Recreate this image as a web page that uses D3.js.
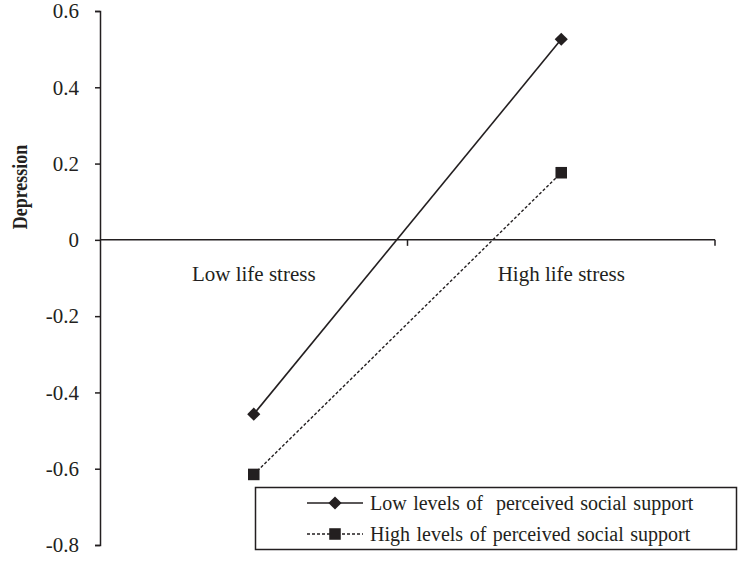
<!DOCTYPE html>
<html><head><meta charset="utf-8">
<script src="https://cdn.jsdelivr.net/npm/d3@7"></script>
<style>
html,body{margin:0;padding:0;background:#fff;}
svg text{font-family:"Liberation Serif","Times New Roman",serif !important;fill:#231f20;}
</style></head>
<body>
<svg id="chart" width="739" height="563"></svg>
<script>
const categories = ["Low life stress", "High life stress"];
const seriesNames = ["Low levels of  perceived social support", "High levels of perceived social support"];
const lowSupport = [-0.457, 0.526];
const highSupport = [-0.615, 0.176];
const yTicks = [0.6, 0.4, 0.2, 0, -0.2, -0.4, -0.6, -0.8];
const yLabel = "Depression";

const svg = d3.select("#chart");
const ink = "#231f20";
const x = d3.scaleBand().domain(categories).range([100, 715]).padding(0);
const y = d3.scaleLinear().domain([-0.8, 0.6]).range([545, 11]);

// Y axis
const yAxis = d3.axisLeft(y).tickValues(yTicks).tickSize(5).tickPadding(16)
  .tickFormat(d => d === 0 ? "0" : d3.format(".1f")(d).replace("\u2212", "-"));
const gy = svg.append("g").attr("transform", "translate(100,0)").call(yAxis);
gy.attr("font-family", null).attr("font-size", null);
gy.select(".domain").attr("stroke", ink).attr("stroke-width", 1.5);
gy.selectAll(".tick line").attr("stroke", ink).attr("stroke-width", 1.5);
gy.selectAll(".tick text").style("font-size", "21px").attr("fill", ink);

// X axis at y=0
const y0 = y(0);
const gx = svg.append("g");
gx.append("line").attr("x1", x.range()[0]).attr("x2", x.range()[1])
  .attr("y1", y0).attr("y2", y0).attr("stroke", ink).attr("stroke-width", 1.5);
const boundaries = categories.map(c => x(c) + x.bandwidth()).filter(v => v > x.range()[0]);
gx.selectAll("line.tk").data(boundaries).enter().append("line").attr("class", "tk")
  .attr("x1", d => d).attr("x2", d => d).attr("y1", y0).attr("y2", y0 + 6)
  .attr("stroke", ink).attr("stroke-width", 1.5);
gx.selectAll("text.cat").data(categories).enter().append("text").attr("class", "cat")
  .attr("x", d => x(d) + x.bandwidth() / 2).attr("y", y0 + 41)
  .attr("text-anchor", "middle").style("font-size", "21px").text(d => d);

// Y label
svg.append("text").attr("transform", "translate(27,187) scale(1.15,1) rotate(-90)")
  .attr("text-anchor", "middle").style("font-size", "18px").style("font-weight", "bold").text(yLabel);

// Series
const cx = d => x(d) + x.bandwidth() / 2;
const lineGen = d3.line().x(d => cx(d.c)).y(d => y(d.v));
const s1 = categories.map((c, i) => ({c, v: lowSupport[i]}));
const s2 = categories.map((c, i) => ({c, v: highSupport[i]}));

svg.append("path").datum(s1).attr("d", lineGen).attr("fill", "none")
  .attr("stroke", ink).attr("stroke-width", 1.6);
svg.append("path").datum(s2).attr("d", lineGen).attr("fill", "none")
  .attr("stroke", ink).attr("stroke-width", 1.4).attr("stroke-dasharray", "3,2");

const diamond = d3.symbol().type(d3.symbolDiamond2).size(110);
const square = d3.symbol().type(d3.symbolSquare2).size(170);
svg.selectAll("path.m1").data(s1).enter().append("path").attr("class", "m1")
  .attr("d", diamond).attr("transform", d => `translate(${cx(d.c)},${y(d.v)})`).attr("fill", ink);
svg.selectAll("path.m2").data(s2).enter().append("path").attr("class", "m2")
  .attr("d", square).attr("transform", d => `translate(${cx(d.c)},${y(d.v)})`).attr("fill", ink);

// Legend
const lg = svg.append("g");
lg.append("rect").attr("x", 255.5).attr("y", 487.5).attr("width", 481).attr("height", 62)
  .attr("fill", "#fff").attr("stroke", ink).attr("stroke-width", 1.5);
const rows = [
  {name: seriesNames[0], y: 503, dash: null, sym: diamond},
  {name: seriesNames[1], y: 534, dash: "3,2", sym: square}
];
rows.forEach(r => {
  lg.append("line").attr("x1", 307).attr("x2", 363).attr("y1", r.y).attr("y2", r.y)
    .attr("stroke", ink).attr("stroke-width", 1.4).attr("stroke-dasharray", r.dash);
  lg.append("path").attr("d", r.sym).attr("transform", `translate(335,${r.y})`).attr("fill", ink);
  lg.append("text").attr("x", 370).attr("y", r.y + 7).style("font-size", "20px")
    .attr("word-spacing", 1.5).style("white-space", "pre").text(r.name);
});
</script>
</body></html>
